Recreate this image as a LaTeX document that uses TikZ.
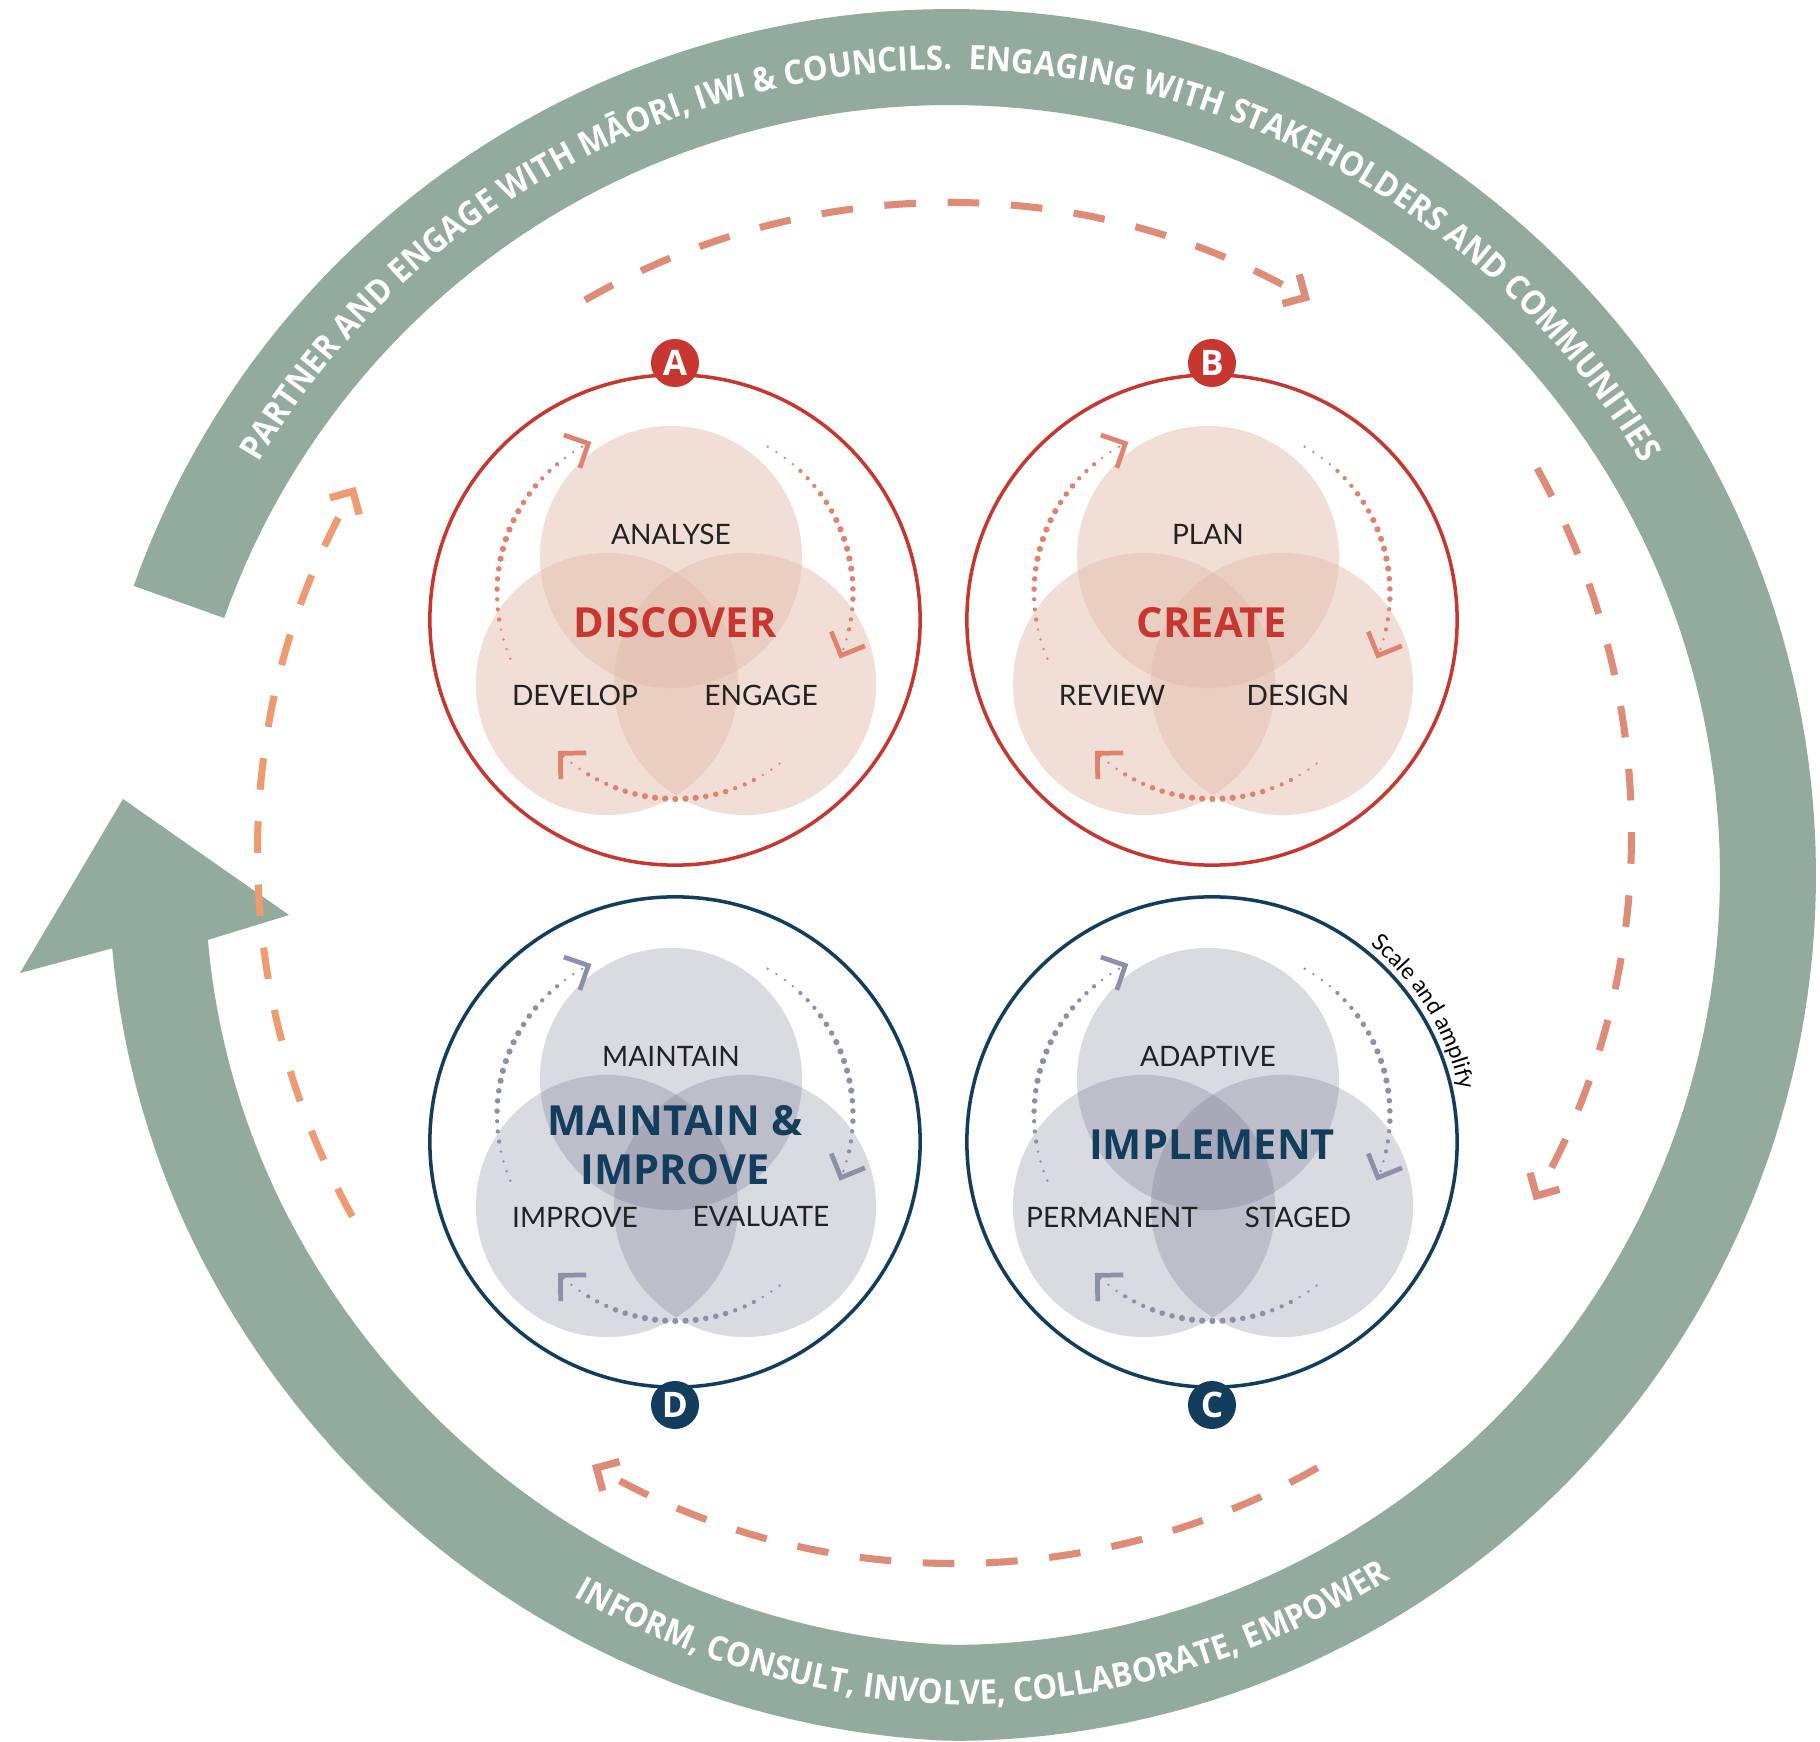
\documentclass[tikz,border=0pt]{standalone}
\usepackage{fontspec}
\usetikzlibrary{arrows.meta, calc, decorations.text}

\newfontfamily\labelfont{Lato}
\newfontfamily\titlefont{Open Sans}
\newfontfamily\ringfont[FakeStretch=0.92]{Open Sans}

\definecolor{ringgreen}{HTML}{93AB9D}
\definecolor{dashsalmon}{HTML}{DE8C78}
\definecolor{dashorange}{HTML}{EE9B72}
\definecolor{phasered}{HTML}{C8372F}
\definecolor{phasenavy}{HTML}{123D5C}
\definecolor{vennred}{RGB}{226,186,168}
\definecolor{venngray}{RGB}{103,103,132}
\definecolor{dotred}{HTML}{E0826E}
\definecolor{dotgray}{HTML}{8C91AA}
\definecolor{labelink}{HTML}{222222}

% dotted cycle arc in a phase: centre, radius, start, end, colour
\newcommand\dotarc[5]{%
  \foreach \k in {1,...,8}{%
    \pgfmathsetmacro\angA{#3+(#4-#3)*(\k-1)/8}%
    \pgfmathsetmacro\angB{#3+(#4-#3)*\k/8}%
    \pgfmathsetmacro\dotw{0.5+1.3*sin(180*(\k-0.5)/8)}%
    \pgfmathsetmacro\dotph{#2*0.2845*abs(#4-#3)*pi/180*(\k-1)/8}%
    \ifnum\k=8
      \draw[dotline, #5, line width=\dotw pt, dash phase=\dotph pt, dottip]
        ($(#1)+(\angA:#2)$) arc[start angle=\angA, end angle=\angB, radius=#2];
    \else
      \draw[dotline, #5, line width=\dotw pt, dash phase=\dotph pt]
        ($(#1)+(\angA:#2)$) arc[start angle=\angA, end angle=\angB, radius=#2];
    \fi
  }%
}

\begin{document}
\begin{tikzpicture}[x=0.01cm, y=0.01cm,
    declare function={dv(\t)=25*sin(90*min(1,max(0,(-90-\t)/60)));},
    bigarr/.style={line width=2pt, dash pattern=on 9pt off 9pt,
                   -{Straight Barb[length=4.8pt, width=9.6pt, line width'=2.1pt]}},
    dotline/.style={line cap=round, dash pattern=on 0pt off 2.9pt},
    dottip/.style={-{Straight Barb[length=5.2pt, width=10.4pt, line width'=1.35pt]}},
    phase/.style={circle, draw, line width=1pt, minimum size=4.9cm, inner sep=0pt},
    venn/.style={circle, minimum size=2.62cm, inner sep=0pt, fill opacity=#1},
    badge/.style={circle, minimum size=0.48cm, inner sep=0pt, text=white,
                  font=\titlefont\bfseries\fontsize{10}{10}\selectfont},
    title/.style={align=center, font=\titlefont\bfseries\fontsize{11.8}{14}\selectfont},
    tag/.style={text=labelink, font=\labelfont\fontsize{8}{9}\selectfont},
    bandtext/.style={decorate, decoration={text along path, text align=center,
                     text color=white, text={|\ringfont\bfseries\fontsize{9.6}{10}\selectfont|#1}}}
  ]
  \useasboundingbox (0,0) rectangle (1820,1741);
  \fill[white] (0,0) rectangle (1820,1741);
  \coordinate (O) at (950,866);

  % engagement band with its arrow head
  \fill[ringgreen]
    plot[domain=160.5:-175, samples=240, variable=\t]
      ({950+(866-dv(\t))*cos(\t)}, {866+(866-dv(\t))*sin(\t)})
    -- (20,768) -- (123,942) -- (289,826)
    -- plot[domain=-175:160.5, samples=240, variable=\t]
      ({950+(770-dv(\t))*cos(\t)}, {866+(770-dv(\t))*sin(\t)})
    -- cycle;

  \path[bandtext={PARTNER AND ENGAGE WITH MĀORI, IWI {\&} COUNCILS. {\ }ENGAGING WITH STAKEHOLDERS AND COMMUNITIES}]
    ($(O)+(158:805)$) arc[start angle=158, end angle=22, radius=805];
  \path[bandtext={INFORM, CONSULT, INVOLVE, COLLABORATE, EMPOWER}]
    plot[domain=-124:-51.6, samples=60, variable=\t]
      ({950+(830-dv(\t))*cos(\t)}, {866+(830-dv(\t))*sin(\t)});

  % dashed cycle between the phases
  \coordinate (arcT) at (947.5,813);
  \coordinate (arcR) at (882,909.5);
  \coordinate (arcB) at (957,908);
  \coordinate (arcL) at (1000,886.5);
  \draw[bigarr, dashsalmon] ($(arcT)+(120:725)$) arc[start angle=120, end angle=60, radius=725];
  \draw[bigarr, dashsalmon] ($(arcR)+(29:749)$) arc[start angle=29, end angle=-29.5, radius=749];
  \draw[bigarr, dashsalmon] ($(arcB)+(-60.4:730)$) arc[start angle=-60.4, end angle=-120, radius=730];
  \draw[bigarr, dashorange] ($(arcL)+(209.2:742)$) arc[start angle=209.2, end angle=150.3, radius=742];

  % the four phases
  \foreach \p/\px/\py/\lc/\vc/\vo/\dc/\bpos/\ttop/\tleft/\tright/\ttitle in {
      A/675/1121/phasered/vennred/0.45/dotred/{90:257}/ANALYSE/DEVELOP/ENGAGE/DISCOVER,
      B/1212/1121/phasered/vennred/0.45/dotred/{90:257}/PLAN/REVIEW/DESIGN/CREATE,
      C/1212/599/phasenavy/venngray/0.245/dotgray/{-90:263}/ADAPTIVE/PERMANENT/STAGED/IMPLEMENT,
      D/675/599/phasenavy/venngray/0.245/dotgray/{-90:263}/MAINTAIN/IMPROVE/EVALUATE/{MAINTAIN \&\\IMPROVE}}
  {
    \coordinate (\p) at (\px,\py);
    \node[venn=\vo, fill=\vc] (\p-t) at ($(\p)+(-4,63)$) {};
    \node[venn=\vo, fill=\vc] (\p-l) at ($(\p)+(-68,-64)$) {};
    \node[venn=\vo, fill=\vc] (\p-r) at ($(\p)+(70,-64)$) {};
    \coordinate (\p-dl) at ($(\p)+(-10,27)$);
    \coordinate (\p-dr) at ($(\p)+(10,27)$);
    \coordinate (\p-db) at ($(\p)+(1,-10)$);
    \dotarc{\p-dl}{168}{203}{116}{\dc}
    \dotarc{\p-dr}{168}{60.5}{-23}{\dc}
    \dotarc{\p-db}{169}{-52.2}{-134.3}{\dc}
    \node[phase, draw=\lc] (\p-ring) at (\p) {};
    \node[badge, fill=\lc] (\p-badge) at ($(\p)+(\bpos)$) {\p};
    \node[tag] (\p-toplab) at ($(\p)+(-4,86)$) {\ttop};
    \node[tag] (\p-leftlab) at ($(\p)+(-100,-75)$) {\tleft};
    \node[tag] (\p-rightlab) at ($(\p)+(86,-75)$) {\tright};
    \node[title, text=\lc] (\p-title) at ($(\p)+(0,-3)$) {\ttitle};
  }

  \path[decorate, decoration={text along path, text align=center,
        text={|\labelfont\fontsize{6.5}{7}\selectfont|Scale and amplify}}]
    ($(C)+(62:253)$) arc[start angle=62, end angle=1, radius=253];
\end{tikzpicture}
\end{document}
